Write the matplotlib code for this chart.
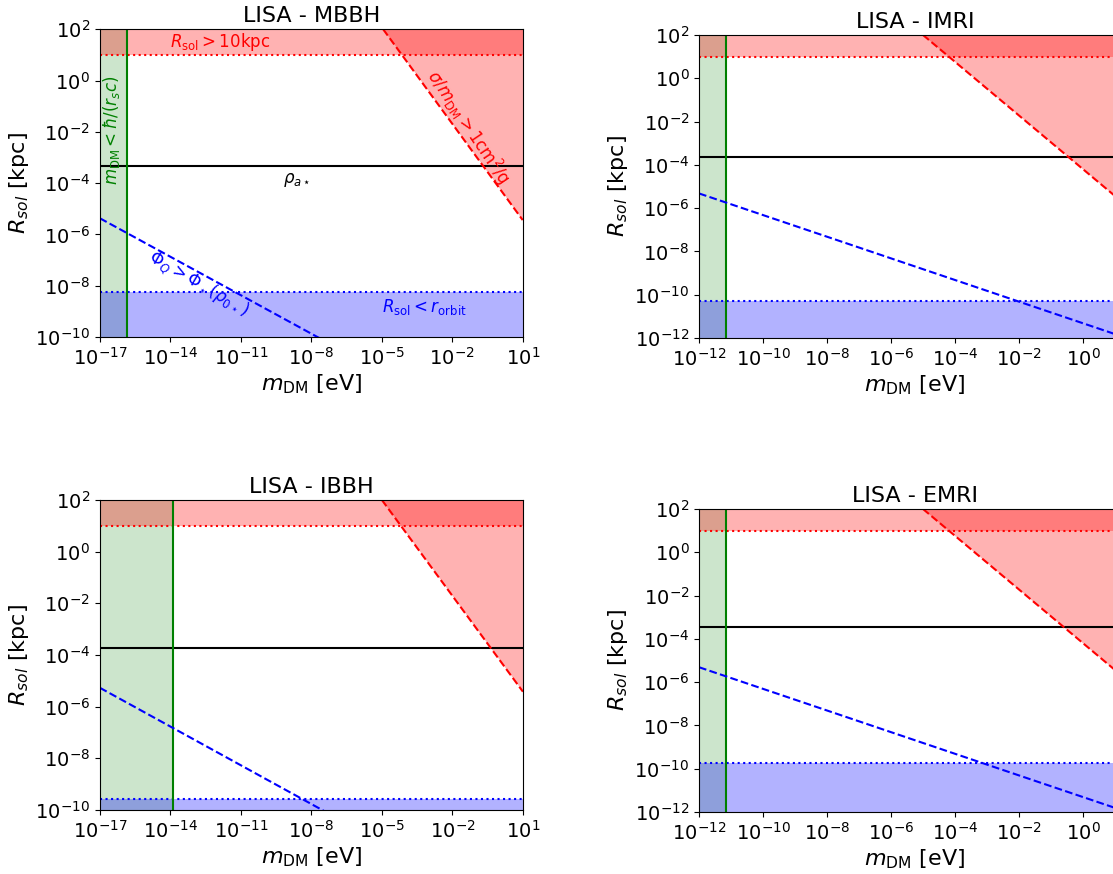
import numpy as np
import matplotlib
matplotlib.use('Agg')
import matplotlib.pyplot as plt
from matplotlib.ticker import FixedLocator, NullLocator

# one entry per panel: MBBH, IMRI, IBBH, EMRI
titles = ['LISA - MBBH', 'LISA - IMRI', 'LISA - IBBH', 'LISA - EMRI']
m_lims = [(1e-17, 1e1), (1e-12, 10**1.5), (1e-17, 1e1), (1e-12, 10**1.5)]
r_lims = [(1e-10, 1e2), (1e-12, 1e2), (1e-10, 1e2), (1e-12, 1e2)]
m_tick_exp = [[-17, -14, -11, -8, -5, -2, 1],
              [-12, -10, -8, -6, -4, -2, 0],
              [-17, -14, -11, -8, -5, -2, 1],
              [-12, -10, -8, -6, -4, -2, 0]]
r_tick_exp = [[-10, -8, -6, -4, -2, 0, 2],
              [-12, -10, -8, -6, -4, -2, 0, 2],
              [-10, -8, -6, -4, -2, 0, 2],
              [-12, -10, -8, -6, -4, -2, 0, 2]]

# constraints [kpc] / [eV]
r_max = 10.0
m_min = [10**-15.83, 10**-11.15, 10**-13.88, 10**-11.15]
rho_star = [10**-3.32, 10**-3.62, 10**-3.72, 10**-3.46]
r_orbit = [10**-8.23, 10**-10.29, 10**-9.57, 10**-9.74]

# Phi_Q > Phi_star line, evaluated at the two mass limits
phi_r = [(10**-5.37, 10**-14.37), (10**-5.32, 10**-12.07),
         (10**-5.27, 10**-14.27), (10**-5.31, 10**-12.06)]

# self-interaction bound sigma/m > 1 cm^2/g
sigma_m = [(10**-4.94, 1e1), (1e-5, 10**1.5), (1e-5, 1e1), (1e-5, 10**1.5)]
sigma_r = [(1e2, 10**-5.44), (1e2, 10**-6.06), (1e2, 10**-5.42), (1e2, 10**-6.06)]

W, H = 1113, 874
# axes boxes in pixels: left, top, width, height
boxes = [(99.9, 29.3, 422.8, 307.7),
         (699.0, 35.0, 432.0, 303.0),
         (99.9, 500.0, 423.0, 310.0),
         (699.0, 509.0, 432.0, 303.0)]

fig = plt.figure(figsize=(W / 100, H / 100), dpi=100)

axes = []
for i in range(4):
    l, t, w, h = boxes[i]
    ax = fig.add_axes([l / W, 1 - (t + h) / H, w / W, h / H])
    axes.append(ax)

    m_lo, m_hi = m_lims[i]
    r_lo, r_hi = r_lims[i]
    ax.set_xscale('log')
    ax.set_yscale('log')

    ax.axvspan(m_lo, m_min[i], color='green', alpha=0.2, lw=0)
    ax.axhspan(r_max, r_hi, color='red', alpha=0.3, lw=0)
    ax.fill_between(sigma_m[i], sigma_r[i], r_hi, color='red', alpha=0.3, lw=0)
    ax.axhspan(r_lo, r_orbit[i], color='blue', alpha=0.3, lw=0)

    ax.axhline(r_max, color='red', ls=':', lw=1.5)
    ax.axhline(r_orbit[i], color='blue', ls=':', lw=1.5)
    ax.axhline(rho_star[i], color='k', lw=1.5)
    ax.axvline(m_min[i], color='green', lw=1.5)
    ax.plot(m_lims[i], phi_r[i], 'b--', lw=1.5)
    ax.plot(sigma_m[i], sigma_r[i], 'r--', lw=1.5)

    ax.set_xlim(m_lo, m_hi)
    ax.set_ylim(r_lo, r_hi)
    ax.xaxis.set_major_locator(FixedLocator([10.0**e for e in m_tick_exp[i]]))
    ax.yaxis.set_major_locator(FixedLocator([10.0**e for e in r_tick_exp[i]]))
    ax.xaxis.set_minor_locator(NullLocator())
    ax.yaxis.set_minor_locator(NullLocator())
    ax.tick_params(labelsize=14)

    ax.set_title(titles[i], fontsize=16, pad=5)
    ax.set_xlabel(r'$m_{\rm DM}$ [eV]', fontsize=16, labelpad=3)
    ax.set_ylabel(r'$R_{sol}$ [kpc]', fontsize=16, labelpad=3)

# labels for the regions, on the first panel only
ax = axes[0]
ax.text(10**-11.9, 10**1.49, r'$R_{\rm sol} > 10$kpc', color='red',
        fontsize=12, ha='center', va='center')
ax.text(10**-16.5, 10**-1.93, r'$m_{\rm DM} < \hbar/(r_s c)$', color='green',
        fontsize=12, rotation=90, ha='center', va='center')
ax.text(10**-8.6, 10**-3.88, r'$\rho_{a\star}$', color='k',
        fontsize=12, ha='center', va='center')
ax.text(10**-12.82, 10**-7.93, r'$\Phi_Q > \Phi_\star(\rho_{0\star})$', color='blue',
        fontsize=12, rotation=-30, rotation_mode='anchor', ha='center', va='center')
ax.text(10**-1.33, 10**-1.81, r'$\sigma/m_{\rm DM} > 1{\rm cm}^2/{\rm g}$', color='red',
        fontsize=12, rotation=-56, rotation_mode='anchor', ha='center', va='center')
ax.text(10**-3.2, 10**-8.83, r'$R_{\rm sol} < r_{\rm orbit}$', color='blue',
        fontsize=12, ha='center', va='center')

fig.savefig('out.png', dpi=100)
